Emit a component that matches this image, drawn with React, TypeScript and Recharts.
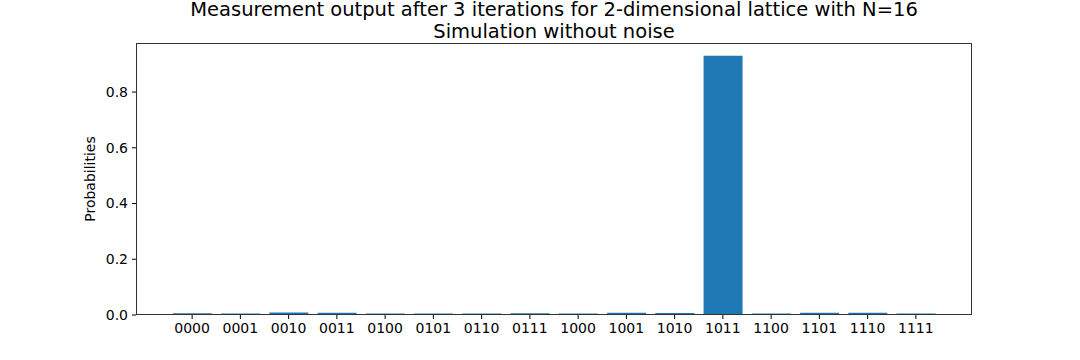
import { BarChart, Bar, XAxis, YAxis } from 'recharts';

const states = [
  '0000', '0001', '0010', '0011', '0100', '0101', '0110', '0111',
  '1000', '1001', '1010', '1011', '1100', '1101', '1110', '1111',
];
const probabilities = [
  0.006, 0.005, 0.009, 0.008, 0.005, 0.005, 0.005, 0.006,
  0.005, 0.008, 0.007, 0.93, 0.005, 0.008, 0.008, 0.005,
];
const yTicks = [0, 0.2, 0.4, 0.6, 0.8];
const titleLines = [
  'Measurement output after 3 iterations for 2-dimensional lattice with N=16',
  'Simulation without noise',
];

const data = states.map((s, i) => ({ state: s, p: probabilities[i] }));

const FONT = '"DejaVu Sans", sans-serif';
const W = 1080;
const H = 360;
const M = { top: 43, right: 108, bottom: 0, left: 0 };
const Y_AXIS_W = 136;
const X_AXIS_H = 45;

function YLabel(props: any) {
  const vb = props.viewBox || {};
  const cy = (vb.y ?? 0) + (vb.height ?? 0) / 2;
  return (
    <text x={90} y={cy} transform={`rotate(-90, 90, ${cy})`} textAnchor="middle"
      dominantBaseline="central" fontFamily={FONT} fontSize={14} fill="#000">
      Probabilities
    </text>
  );
}

export default function App() {
  const plotW = W - M.right - Y_AXIS_W;
  const plotH = H - M.top - X_AXIS_H;
  const cx = Y_AXIS_W + plotW / 2;
  return (
    <div style={{ position: 'absolute', left: 0, top: 0, width: W, height: H, background: '#fff' }}>
      <BarChart width={W} height={H} data={data} margin={M} barCategoryGap="10%">
        <XAxis
          dataKey="state"
          interval={0}
          height={X_AXIS_H}
          padding={{ left: 32, right: 32 }}
          tickSize={4}
          tickMargin={4}
          axisLine={false}
          tickLine={{ stroke: '#000' }}
          tick={{ fontFamily: FONT, fontSize: 14, fill: '#000' }}
        />
        <YAxis
          width={Y_AXIS_W}
          domain={[0, 0.976]}
          ticks={yTicks}
          tickFormatter={(v: number) => v.toFixed(1)}
          tickSize={4}
          tickMargin={4}
          axisLine={false}
          tickLine={{ stroke: '#000' }}
          tick={{ fontFamily: FONT, fontSize: 14, fill: '#000' }}
          label={<YLabel />}
        />
        <Bar dataKey="p" fill="#1f77b4" isAnimationActive={false} />
      </BarChart>
      <div style={{
        position: 'absolute', left: Y_AXIS_W, top: M.top, width: plotW, height: plotH,
        border: '1px solid #333', boxSizing: 'border-box', pointerEvents: 'none',
      }} />
      <svg width={W} height={M.top} style={{ position: 'absolute', left: 0, top: 0 }}>
        {titleLines.map((t, i) => (
          <text key={i} x={cx} y={16 + i * 21.5} textAnchor="middle"
            fontFamily={FONT} fontSize={19.5} fill="#000">{t}</text>
        ))}
      </svg>
    </div>
  );
}
